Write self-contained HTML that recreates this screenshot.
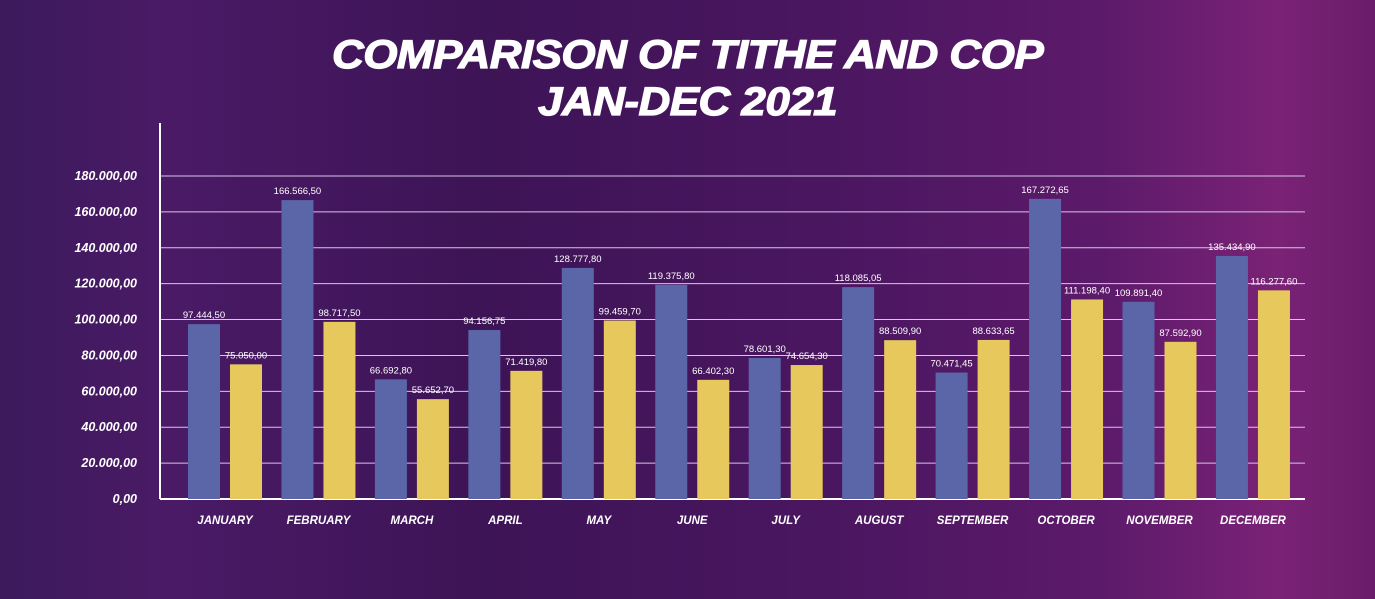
<!DOCTYPE html>
<html><head><meta charset="utf-8">
<style>
html,body{margin:0;padding:0;}
body{width:1375px;height:599px;overflow:hidden;font-family:"Liberation Sans",sans-serif;
background:linear-gradient(90deg,#3c1a5c 0%,#4a1a66 12%,#3d1456 35%,#4a1660 60%,#5c1a6a 80%,#7a2276 93%,#6a1c6a 100%);}
#wrap{position:relative;width:1375px;height:599px;}
#title{position:absolute;left:0;top:32px;width:1375px;text-align:center;color:#fff;font-weight:900;font-style:italic;font-size:40px;line-height:47px;letter-spacing:-0.5px;transform:scaleX(1.1);transform-origin:687px 0;-webkit-text-stroke:1.2px #fff;}
svg{position:absolute;left:0;top:0;}
</style></head><body>
<div id="wrap">
<div id="title">COMPARISON OF TITHE AND COP<br>JAN-DEC 2021</div>
<svg id="chart" width="1375" height="599"></svg>
</div>
<script>
const months=["JANUARY","FEBRUARY","MARCH","APRIL","MAY","JUNE","JULY","AUGUST","SEPTEMBER","OCTOBER","NOVEMBER","DECEMBER"];
const tithe=[97444.50,166566.50,66692.80,94156.75,128777.80,119375.80,78601.30,118085.05,70471.45,167272.65,109891.40,135434.90];
const cop=[75050.00,98717.50,55652.70,71419.80,99459.70,66402.30,74654.30,88509.90,88633.65,111198.40,87592.90,116277.60];
const titheLabels=["97.444,50","166.566,50","66.692,80","94.156,75","128.777,80","119.375,80","78.601,30","118.085,05","70.471,45","167.272,65","109.891,40","135.434,90"];
const copLabels=["75.050,00","98.717,50","55.652,70","71.419,80","99.459,70","66.402,30","74.654,30","88.509,90","88.633,65","111.198,40","87.592,90","116.277,60"];
const ticks=[0,20000,40000,60000,80000,100000,120000,140000,160000,180000];
const tickLabels=["0,00","20.000,00","40.000,00","60.000,00","80.000,00","100.000,00","120.000,00","140.000,00","160.000,00","180.000,00"];

const NS="http://www.w3.org/2000/svg";
const svg=document.getElementById('chart');
const x0=160,x1=1305,yBase=499,yTop=176,vMax=180000;
const y=v=>yBase-(v/vMax)*(yBase-yTop);
const cx=i=>222+i*93.45;
function mk(tag,attrs){const e=document.createElementNS(NS,tag);for(const k in attrs)e.setAttribute(k,attrs[k]);svg.appendChild(e);return e;}
ticks.forEach((t,i)=>{
  if(t>0){const g=mk('line',{x1:x0,x2:x1,y1:y(t),y2:y(t),stroke:'#d9c4ea','stroke-width':1});
  
  }
  const tx=mk('text',{x:137,y:y(t)+4,'text-anchor':'end',fill:'#fff','font-size':12.5,'font-weight':'bold','font-style':'italic'});
  tx.textContent=tickLabels[i];
  
  
});
const ax=mk('line',{x1:x0,x2:x0,y1:123,y2:yBase,stroke:'#fff','stroke-width':2});


const bx=mk('line',{x1:x0,x2:x1,y1:yBase,y2:yBase,stroke:'#fff','stroke-width':2});


months.forEach((m,i)=>{
  const c=cx(i);
  const b1=mk('rect',{x:c-34,y:y(tithe[i]),width:32,height:yBase-y(tithe[i]),fill:'#5a66a8'});
  
  
  const b2=mk('rect',{x:c+8,y:y(cop[i]),width:32,height:yBase-y(cop[i]),fill:'#e6c85c'});
  
  
  const l1=mk('text',{x:c-18,y:y(tithe[i])-6,'text-anchor':'middle',fill:'#fff','font-size':9.5});
  l1.textContent=titheLabels[i];
  
  
  const l2=mk('text',{x:c+24,y:y(cop[i])-6,'text-anchor':'middle',fill:'#fff','font-size':9.5});
  l2.textContent=copLabels[i];
  
  
  const ml=mk('text',{x:c+3,y:524,'text-anchor':'middle',fill:'#fff','font-size':11.5,'font-weight':'bold','font-style':'italic'});
  ml.textContent=m;
  
  
});
</script>
</body></html>
